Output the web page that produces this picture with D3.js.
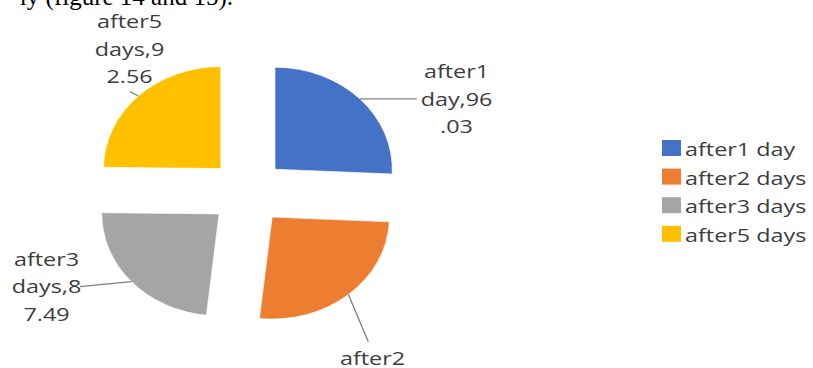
<!DOCTYPE html>
<html>
<head>
<meta charset="utf-8">
<script src="https://cdn.jsdelivr.net/npm/d3@7"></script>
<style>
  html, body { margin: 0; padding: 0; background: #fff; }
  svg { display: block; }
</style>
</head>
<body>
<svg id="chart" width="813" height="368"></svg>
<script>
// Share of samples after each interval
const categories = ["after1 day", "after2 days", "after3 days", "after5 days"];
const values = [96.03, 96.92, 87.49, 92.56];
const colors = ["#4472C4", "#ED7D31", "#A5A5A5", "#FFC000"];

const W = 813, H = 368;
const svg = d3.select("#chart");
const textColor = "#3d3d3d";
const fontFamily = "'Open Sans', 'Noto Sans', sans-serif";
const fs = 19, sx = 1.23;     // label font size and horizontal widening

// Running text line cut off at the top of the frame
svg.append("text")
  .attr("x", 233).attr("y", 5)
  .attr("text-anchor", "end")
  .attr("font-family", "'Liberation Serif', 'Times New Roman', serif")
  .attr("font-size", 25)
  .attr("fill", "#000")
  .text("ly (figure 14 and 15).");

// Pie geometry (drawn slightly wider than tall)
const cx = 247.5, cy = 192, r = 102, stretch = 1.15, explode = 33;

const pie = d3.pie().sort(null).value(d => d)(values);
const arc = d3.arc().innerRadius(0).outerRadius(r);

const g = svg.append("g")
  .attr("transform", `translate(${cx},${cy}) scale(${stretch},1)`);

g.selectAll("path.slice")
  .data(pie)
  .join("path")
  .attr("class", "slice")
  .attr("d", arc)
  .attr("fill", (d, i) => colors[i])
  .attr("stroke", "#fff")
  .attr("stroke-width", 0.6)
  .attr("transform", d => {
    const a = (d.startAngle + d.endAngle) / 2;
    return `translate(${Math.sin(a) * explode},${-Math.cos(a) * explode})`;
  });

// Point on the outer edge of a slice, at its mid-angle, in page coords
function edgePoint(d) {
  const a = (d.startAngle + d.endAngle) / 2;
  const rr = r + explode;
  return [cx + Math.sin(a) * rr * stretch, cy - Math.cos(a) * rr];
}

// Data label placement: text centre x, first baseline, leader end
const labelPos = [
  { x: 456.5, y: 78.3, end: "h", ex: 416.7 },
  { x: 372.5, y: 365, ex: 368.3, ey: 341.7 },
  { x: 46.5,  y: 266, ex: 80,    ey: 286.7 },
  { x: 129.5, y: 28.3, ex: 130,  ey: 91.7 }
];
const lineGap = 27.3;

pie.forEach((d, i) => {
  const p = edgePoint(d);
  const L = labelPos[i];
  const end = L.end === "h" ? [L.ex, p[1]] : [L.ex, L.ey];
  svg.append("line")
    .attr("x1", p[0]).attr("y1", p[1])
    .attr("x2", end[0]).attr("y2", end[1])
    .attr("stroke", "#7f7f7f")
    .attr("stroke-width", 1.3);

  const full = `${categories[i]},${values[i]}`;
  const sp = full.indexOf(" ");
  const rest = full.slice(sp + 1);
  const lines = [full.slice(0, sp), rest.slice(0, 6), rest.slice(6)];

  const lg = svg.append("g")
    .attr("transform", `translate(${L.x},${L.y}) scale(${sx},1)`);
  lines.forEach((t, k) => {
    lg.append("text")
      .attr("x", 0).attr("y", k * lineGap)
      .attr("text-anchor", "middle")
      .attr("font-family", fontFamily)
      .attr("font-size", fs)
      .attr("fill", textColor)
      .text(t);
  });
});

// Legend
const legend = svg.append("g").attr("transform", "translate(662,140)");
const rowGap = 28.6;
categories.forEach((c, i) => {
  const row = legend.append("g").attr("transform", `translate(0,${i * rowGap})`);
  row.append("rect")
    .attr("x", 0).attr("y", 0)
    .attr("width", 19).attr("height", 16)
    .attr("fill", colors[i]);
  row.append("g")
    .attr("transform", `translate(23,16) scale(${sx},1)`)
    .append("text")
    .attr("x", 0).attr("y", 0)
    .attr("font-family", fontFamily)
    .attr("font-size", fs)
    .attr("fill", textColor)
    .text(c);
});
</script>
</body>
</html>
